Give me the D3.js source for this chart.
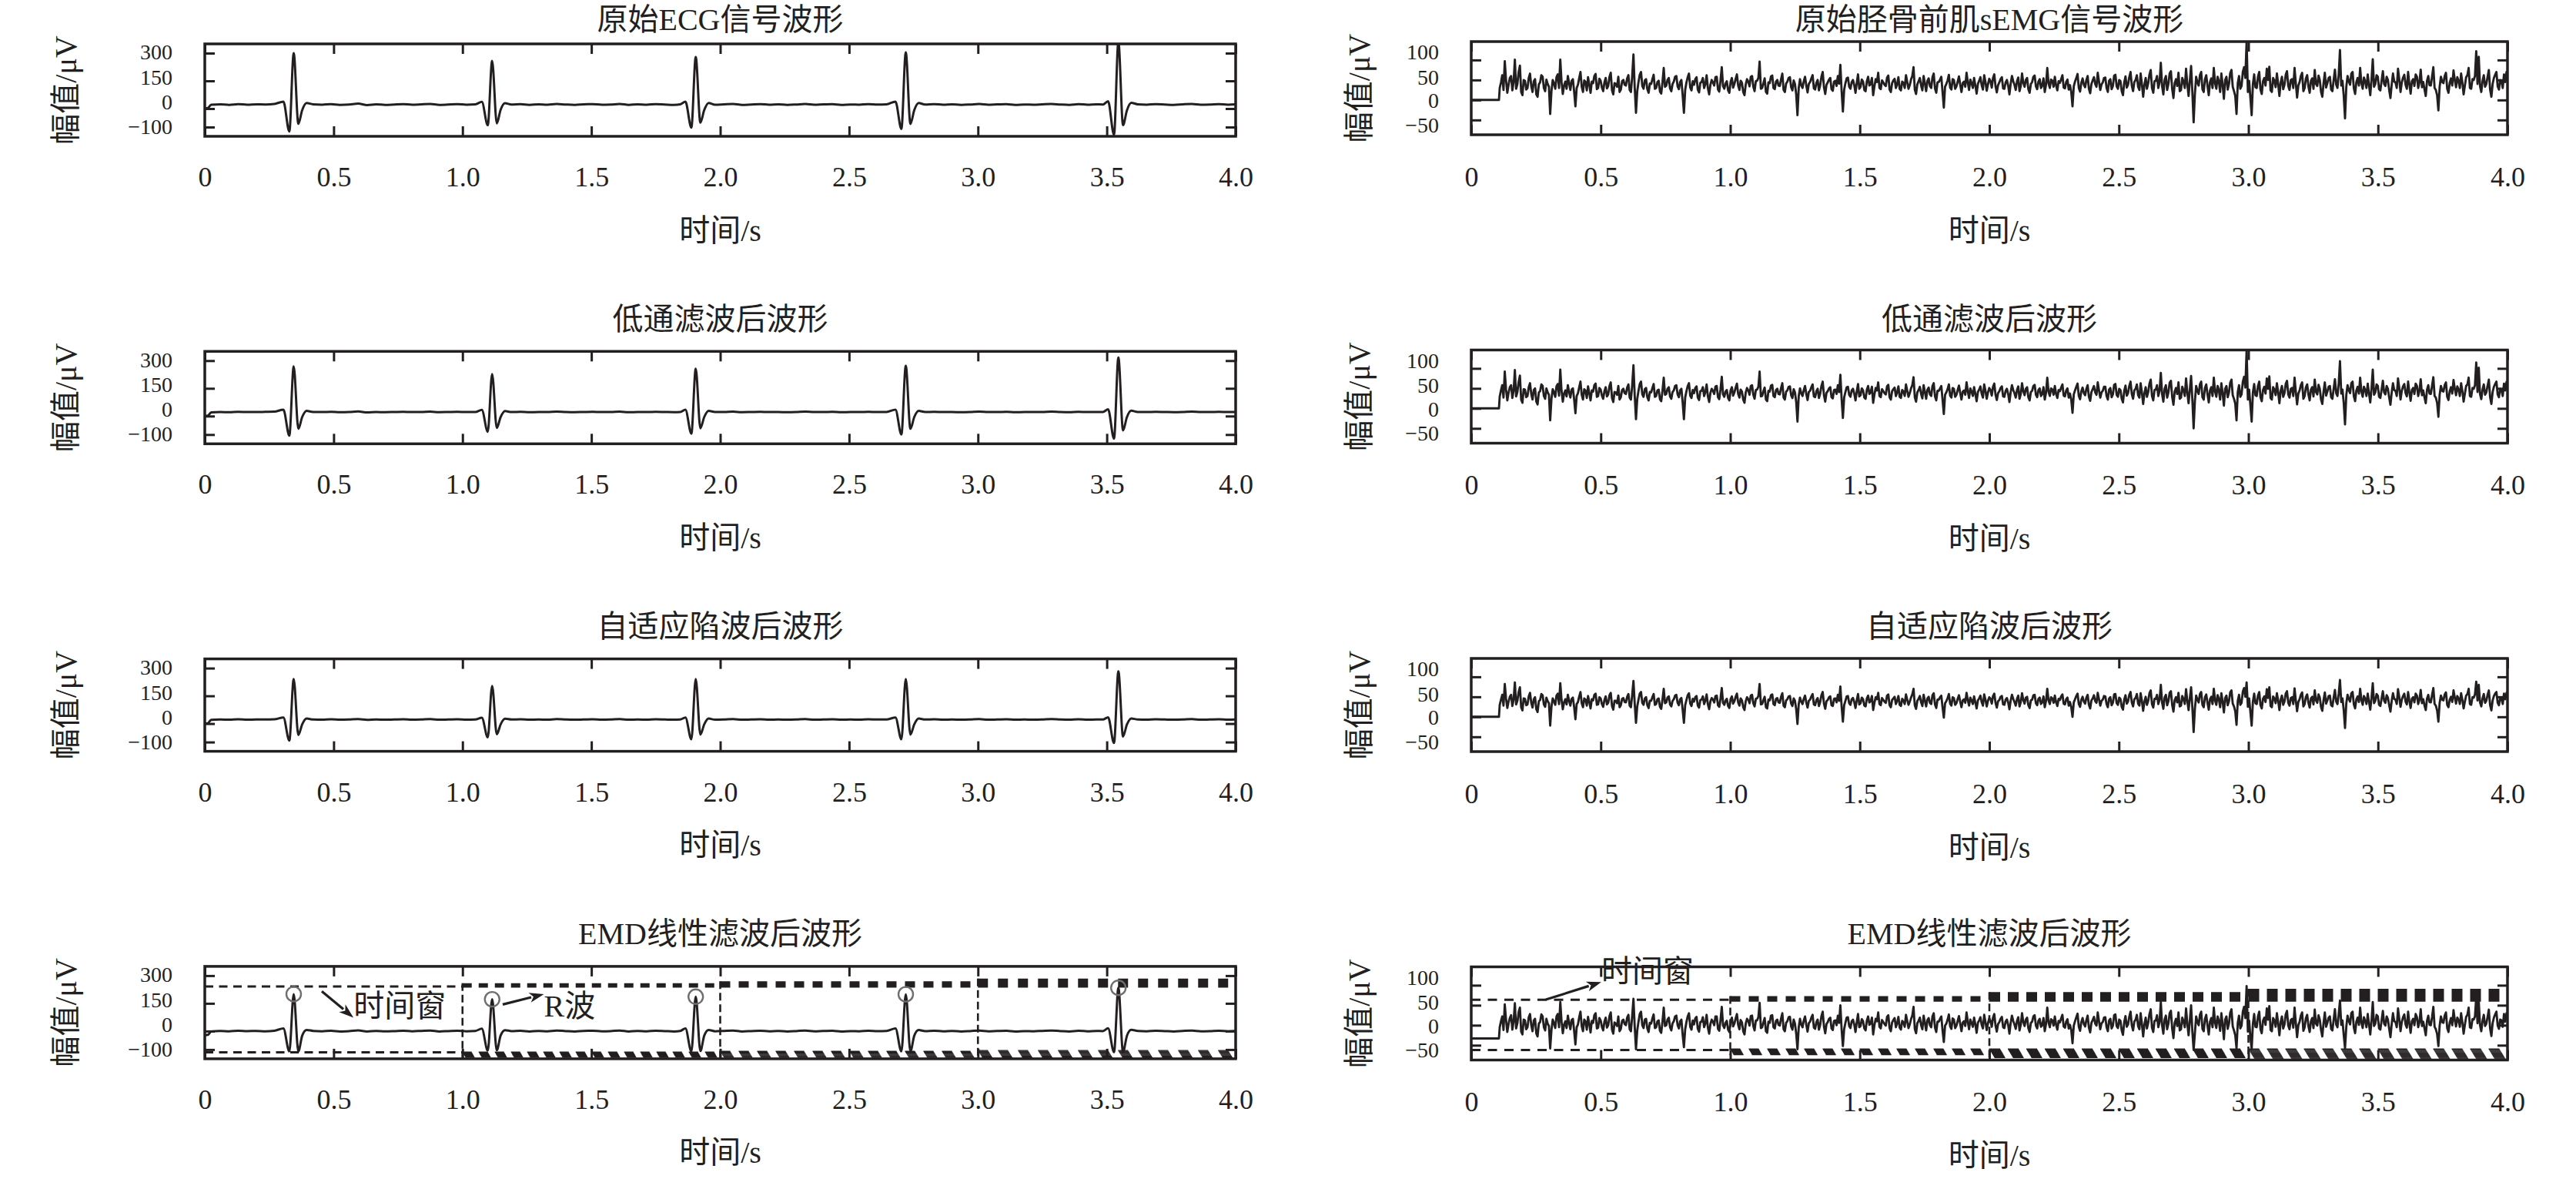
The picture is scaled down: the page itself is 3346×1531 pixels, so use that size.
<!DOCTYPE html>
<html><head><meta charset="utf-8">
<script src="https://cdn.jsdelivr.net/npm/d3@7"></script>
<style>
html,body{margin:0;padding:0;background:#fff;}
svg{display:block;}
text{font-family:"Liberation Serif","Times New Roman","Noto Sans CJK SC",serif;fill:#231f20;}
</style></head><body>
<svg id="chart" width="3346" height="1531"></svg>
<script>
// ---------------- DATA ----------------
const xTickValues = [0, 0.5, 1, 1.5, 2, 2.5, 3, 3.5, 4];
const xTickLabels = ["0", "0.5", "1.0", "1.5", "2.0", "2.5", "3.0", "3.5", "4.0"];
const ecgYTicks = [300, 150, 0, -100];
const ecgYLabels = ["300", "150", "0", "−100"];
const emgYTicks = [100, 50, 0, -50];
const emgYLabels = ["100", "50", "0", "−50"];
const ecgDomain = [-150, 350];
const emgDomain = [-87, 146];
const ecgTitles = ["原始ECG信号波形", "低通滤波后波形", "自适应陷波后波形", "EMD线性滤波后波形"];
const emgTitles = ["原始胫骨前肌sEMG信号波形", "低通滤波后波形", "自适应陷波后波形", "EMD线性滤波后波形"];
const xTitle = "时间/s";
const yTitle = "幅值/μV";

// ECG samples (time in s)
const ecgTime = [
 0, 0.012, 0.025, 0.06, 0.095, 0.13, 0.165, 0.2, 0.235, 0.27,
 0.305, 0.328, 0.345, 0.363, 0.378, 0.395,
 0.42, 0.455, 0.49, 0.525, 0.56, 0.595, 0.63, 0.665, 0.7, 0.735, 0.77, 0.805, 0.84, 0.875, 0.91, 0.945, 0.98, 1.015, 1.05,
 1.075, 1.098, 1.115, 1.133, 1.148, 1.165,
 1.19, 1.225, 1.26, 1.295, 1.33, 1.365, 1.4, 1.435, 1.47, 1.505, 1.54, 1.575, 1.61, 1.645, 1.68, 1.715, 1.75, 1.785, 1.82, 1.845,
 1.865, 1.888, 1.905, 1.923, 1.938, 1.955,
 1.98, 2.015, 2.05, 2.085, 2.12, 2.155, 2.19, 2.225, 2.26, 2.295, 2.33, 2.365, 2.4, 2.435, 2.47, 2.505, 2.54, 2.575, 2.61, 2.645,
 2.68, 2.703, 2.72, 2.738, 2.753, 2.77,
 2.795, 2.83, 2.865, 2.9, 2.935, 2.97, 3.005, 3.04, 3.075, 3.11, 3.145, 3.18, 3.215, 3.25, 3.285, 3.32, 3.355, 3.39, 3.425, 3.46, 3.485,
 3.505, 3.528, 3.545, 3.563, 3.578, 3.595,
 3.62, 3.655, 3.69, 3.725, 3.76, 3.795, 3.83, 3.865, 3.9, 3.935, 3.97, 4.0
];
const ecgRaw = [
 0, 3, 21, 23, 20, 24, 21, 23, 22, 25,
 38, -124, 300, -82, -8, 30,
 23, 21, 24, 20, 22, 27, 19, 23, 20, 22, 24, 21, 23, 25, 20, 22, 24, 21, 23,
 36, -90, 258, -80, -6, 29,
 22, 24, 20, 23, 21, 25, 22, 20, 23, 24, 21, 22, 25, 20, 23, 21, 24, 22, 20, 23,
 37, -103, 279, -76, -8, 30,
 21, 23, 25, 20, 22, 24, 21, 23, 20, 22, 25, 21, 23, 24, 20, 22, 21, 24, 22, 23,
 38, -110, 304, -83, -8, 30,
 22, 24, 21, 23, 20, 22, 25, 21, 23, 24, 20, 22, 21, 23, 25, 22, 20, 24, 21, 23, 22,
 40, -142, 362, -90, -10, 31,
 23, 21, 24, 22, 20, 23, 25, 21, 22, 24, 21, 23
];
const ecgLowpass = [
 0, 2, 20, 22, 21, 23, 22, 22, 23, 24,
 35, -106, 269, -69, -5, 28,
 22, 22, 23, 21, 22, 25, 20, 22, 21, 22, 23, 22, 22, 24, 21, 22, 23, 22, 22,
 34, -85, 227, -64, -5, 27,
 22, 23, 21, 22, 22, 24, 22, 21, 22, 23, 22, 22, 24, 21, 22, 22, 23, 22, 21, 22,
 35, -95, 256, -66, -5, 28,
 22, 22, 24, 21, 22, 23, 22, 22, 21, 22, 24, 22, 22, 23, 21, 22, 22, 23, 22, 22,
 35, -100, 272, -69, -5, 28,
 22, 23, 22, 22, 21, 22, 24, 22, 22, 23, 21, 22, 22, 22, 24, 22, 21, 23, 22, 22, 22,
 37, -122, 317, -78, -6, 29,
 22, 22, 23, 22, 21, 22, 24, 22, 22, 23, 22, 22
];
const ecgNotch = [
 0, 2, 20, 22, 21, 23, 21, 22, 22, 23,
 33, -92, 241, -62, -4, 27,
 22, 21, 23, 21, 22, 24, 20, 22, 21, 22, 23, 21, 22, 24, 21, 22, 23, 21, 22,
 32, -75, 204, -58, -4, 26,
 22, 23, 21, 22, 21, 24, 22, 21, 22, 23, 21, 22, 24, 21, 22, 21, 23, 22, 21, 22,
 33, -85, 241, -60, -4, 27,
 21, 22, 24, 21, 22, 23, 21, 22, 21, 22, 24, 21, 22, 23, 21, 22, 21, 23, 22, 22,
 33, -85, 241, -60, -4, 27,
 22, 23, 21, 22, 21, 22, 24, 21, 22, 23, 21, 22, 21, 22, 24, 22, 21, 23, 21, 22, 22,
 34, -105, 283, -70, -5, 28,
 22, 21, 23, 22, 21, 22, 24, 21, 22, 23, 21, 22
];
const ecgEmd = [
 -22, -20, -2, 1, -1, 2, 0, 1, -1, 2,
 14, -110, 200, -110, -25, 6,
 1, -1, 2, -2, 0, 4, -2, 1, -1, 0, 2, -1, 1, 3, -2, 0, 2, -1, 1,
 13, -106, 172, -104, -24, 5,
 0, 2, -2, 1, -1, 3, 0, -2, 1, 2, -1, 0, 3, -2, 1, -1, 2, 0, -2, 1,
 14, -110, 186, -108, -25, 6,
 -1, 1, 3, -2, 0, 2, -1, 1, -2, 0, 3, -1, 1, 2, -2, 0, -1, 2, 0, 1,
 14, -110, 199, -110, -25, 6,
 0, 2, -1, 1, -2, 0, 3, -1, 1, 2, -2, 0, -1, 1, 3, 0, -2, 2, -1, 1, 0,
 15, -114, 234, -114, -26, 7,
 1, -1, 2, 0, -2, 1, 3, -1, 0, 2, -1, 1
];

// sEMG samples: flat segment until onset, then uniform samples
const emgOnset = 0.107;
const emgStart = 0.11;
const emgStep = 0.00487;
const emgFlat = [0, 0, 0, -33];
const emgRaw = [
 30, 44, 62, 25, 97, 50, 18, 38, 55, 60, 24, 45, 101, 28, 40, 70, 86, 20, 12, 50, 48, 26, 30, 55, 66, 35, 20, 47, 52, 14, 8, 39, 44, 62, 58, 30, 22, 51, 40, 33,
 -35, 22, 50, 41, 28, 57, 64, 30, 101, 45, 15, 36, 46, 28, 60, 42, 25, 48, 52, 20, -16, 30, 38, 55, 70, 33, 20, 49, 45, 24, 57, 38, 18, 46, 42, 60, 65, 27, 30, 53,
 48, 31, 22, 44, 55, 29, 35, 58, 68, 24, 14, 42, 40, 33, 58, 20, 26, 47, 50, 38, 36, 54, 62, 25, 20, 60, 114, 30, -32, 22, 45, 63, 70, 35, 28, 49, 52, 27, 18, 41,
 40, 52, 63, 28, 30, 45, 48, 21, 16, 44, 80, 33, 36, 50, 55, 29, 22, 40, 46, 58, 60, 34, 27, 45, 50, 12, -32, 25, 44, 57, 66, 31, 24, 47, 38, 52, 57, 26, 19, 43,
 45, 55, 30, 40, 62, 29, 14, 38, 50, 44, 36, 57, 58, 26, 21, 49, 82, 35, 28, 41, 47, 24, 18, 45, 55, 31, 40, 53, 64, 36, 25, 48, 43, 20, 12, 39, 52, 46, 34, 58,
 60, 33, 22, 47, 48, 55, 96, 28, 30, 42, 54, 20, 16, 44, 42, 59, 61, 30, 27, 46, 50, 36, 35, 52, 66, 25, 20, 41, 46, 55, 57, 32, 24, 49, 40, 14, -38, 30, 52, 37,
 30, 47, 58, 36, 19, 40, 45, 54, 62, 29, 26, 43, 50, 24, 37, 58, 70, 32, 15, 38, 44, 51, 55, 27, 23, 46, 48, 35, 60, 41, 88, 22, -29, 25, 42, 54, 56, 33, 28, 45,
 50, 37, 18, 43, 64, 28, 33, 51, 46, 25, 22, 47, 58, 36, 40, 55, 12, 34, 52, 45, 68, 30, 27, 49, 44, 38, 35, 56, 61, 26, 20, 42, 49, 53, 30, 39, 57, 28, 24, 46,
 43, 30, 62, 45, 28, 37, 51, 60, 82, 26, 15, 39, 47, 55, 36, 24, 60, 41, 22, 48, 54, 35, 30, 57, 66, 29, 18, 44, 45, 51, 58, 20, -19, 33, 40, 49, 63, 31, 26, 52,
 50, 28, 34, 46, 59, 38, 20, 42, 46, 33, 68, 44, 25, 51, 42, 30, 55, 36, 16, 40, 48, 57, 37, 26, 62, 45, 23, 39, 53, 47, 31, 55, 64, 34, 19, 37, 44, 52, 57, 29,
 28, 44, 50, 36, 14, 41, 60, 47, 38, 25, 47, 56, 22, 35, 66, 43, 33, 50, 55, 27, 18, 40, 45, 58, 61, 34, 27, 46, 52, 30, 36, 54, 20, 38, 80, 42, 30, 51, 48, 33,
 58, 36, 24, 47, 43, 52, 62, 31, 29, 45, 51, 26, 37, 20, -16, 34, 46, 55, 65, 30, 21, 43, 54, 38, 32, 50, 60, 28, 17, 40, 49, 57, 40, 33, 68, 46, 25, 39, 44, 55,
 56, 30, 20, 48, 52, 27, 35, 61, 63, 34, 28, 50, 47, 22, 12, 44, 59, 31, 38, 57, 70, 36, 22, 45, 50, 62, 33, 25, 66, 40, 8, 38, 55, 28, 42, 64, 75, 30, 18, 47,
 48, 60, 30, 44, 93, 35, 14, 50, 60, 25, 40, 66, 72, 28, 5, 42, 52, 35, 68, 22, 25, 55, 46, 30, 78, 40, 10, 48, 85, 20, -56, 15, 58, 44, 36, 62, 70, 27, 20, 52,
 62, 35, 12, 45, 54, 30, 80, 42, 28, 58, 47, 20, 66, 38, 3, 50, 58, 26, 40, 67, 75, 33, 22, 10, -35, 42, 60, 28, 35, 70, 82, 55, 146, 20, 48, 5, -38, 40, 64, 32,
 30, 58, 70, 26, 15, 47, 55, 36, 78, 50, 83, 24, 20, 55, 48, 32, 66, 40, 10, 44, 58, 27, 38, 63, 72, 35, 25, 50, 52, 30, 80, 42, 6, 36, 45, 60, 68, 22, 30, 54,
 62, 34, 18, 48, 54, 28, 75, 40, 35, 61, 50, 20, 8, 42, 68, 31, 42, 55, 58, 26, 22, 50, 76, 38, 30, 64, 125, 36, 48, 10, -46, 32, 60, 47, 38, 66, 70, 29, 15, 45,
 55, 36, 80, 42, 28, 56, 46, 30, 64, 38, 12, 50, 102, 33, 40, 62, 58, 27, 24, 48, 72, 40, 35, 58, 50, 25, 5, 39, 66, 46, 44, 30, 78, 52, 20, 44, 56, 63, 38, 28,
 70, 40, 16, 47, 52, 35, 64, 58, 30, 44, 76, 32, 45, 26, 10, 48, 60, 37, 36, 59, 82, 30, 25, 12, -26, 33, 58, 45, 42, 60, 68, 28, 18, 43, 54, 36, 74, 50, 32, 57,
 48, 30, 66, 44, 14, 36, 57, 62, 80, 30, 28, 52, 50, 60, 122, 40, 108, 35, 20, 47, 62, 33, 40, 58, 75, 26, 8, 40, 55, 63, 70, 34, 26, 50, 48, 30, 64, 45, 70, 52
];
const emgLowpass = [
 30, 45, 58, 27, 92, 48, 20, 39, 53, 58, 26, 44, 96, 30, 41, 66, 82, 22, 14, 48, 47, 28, 31, 53, 63, 36, 22, 46, 50, 17, 10, 40, 43, 60, 56, 31, 24, 50, 40, 34,
 -30, 24, 48, 40, 29, 55, 61, 32, 97, 44, 17, 37, 45, 30, 58, 41, 27, 47, 50, 22, -12, 31, 38, 53, 67, 34, 22, 48, 44, 26, 55, 38, 20, 45, 42, 58, 62, 29, 31, 51,
 47, 32, 24, 43, 53, 30, 35, 56, 65, 26, 16, 41, 40, 34, 56, 22, 28, 46, 49, 38, 36, 52, 60, 27, 22, 58, 108, 31, -27, 24, 44, 61, 67, 35, 29, 48, 51, 28, 20, 41,
 40, 51, 61, 29, 31, 45, 47, 23, 18, 44, 77, 34, 36, 49, 53, 30, 24, 41, 45, 56, 58, 35, 28, 45, 49, 15, -27, 27, 43, 56, 63, 32, 26, 46, 38, 51, 55, 27, 21, 43,
 44, 53, 31, 41, 60, 30, 16, 39, 49, 44, 36, 55, 56, 28, 23, 48, 79, 35, 29, 42, 46, 26, 20, 45, 53, 32, 40, 52, 62, 36, 27, 47, 42, 22, 14, 40, 51, 45, 34, 56,
 58, 34, 24, 46, 47, 54, 92, 30, 31, 43, 52, 22, 18, 44, 42, 57, 59, 31, 28, 46, 49, 36, 35, 51, 63, 27, 22, 42, 45, 54, 55, 33, 26, 48, 40, 16, -33, 31, 50, 38,
 31, 46, 56, 36, 21, 41, 44, 53, 60, 30, 28, 43, 49, 26, 37, 56, 67, 33, 17, 39, 43, 50, 53, 28, 25, 46, 47, 36, 58, 41, 84, 24, -24, 27, 41, 53, 54, 34, 29, 45,
 49, 37, 20, 43, 61, 30, 33, 50, 45, 27, 24, 47, 56, 36, 40, 54, 14, 35, 51, 45, 65, 31, 28, 48, 43, 38, 35, 55, 59, 28, 22, 43, 48, 52, 31, 40, 55, 29, 26, 46,
 42, 31, 60, 44, 29, 38, 50, 58, 78, 28, 17, 40, 46, 54, 36, 25, 58, 41, 24, 47, 52, 35, 31, 56, 63, 30, 20, 44, 44, 50, 56, 22, -14, 34, 40, 48, 60, 32, 27, 51,
 49, 29, 34, 46, 57, 38, 22, 42, 45, 34, 65, 43, 26, 50, 42, 31, 53, 36, 18, 41, 47, 55, 37, 27, 60, 44, 24, 40, 51, 46, 32, 54, 62, 34, 21, 38, 43, 51, 55, 30,
 29, 44, 49, 36, 16, 41, 58, 46, 38, 27, 46, 55, 24, 36, 63, 43, 33, 49, 53, 28, 20, 41, 44, 56, 59, 34, 28, 46, 50, 31, 36, 53, 22, 39, 77, 42, 31, 50, 47, 34,
 56, 36, 26, 46, 43, 52, 60, 32, 30, 45, 50, 27, 37, 22, -11, 35, 45, 54, 62, 31, 23, 43, 52, 38, 33, 49, 58, 29, 19, 41, 48, 56, 40, 34, 65, 45, 27, 40, 44, 54,
 54, 31, 22, 47, 51, 28, 35, 59, 61, 34, 29, 49, 46, 24, 15, 44, 57, 32, 38, 56, 67, 36, 24, 45, 49, 60, 33, 27, 63, 40, 11, 38, 53, 29, 41, 62, 72, 31, 20, 46,
 47, 58, 31, 44, 89, 36, 17, 49, 58, 27, 40, 64, 69, 29, 9, 42, 51, 36, 65, 24, 27, 54, 45, 31, 75, 40, 13, 47, 81, 22, -50, 18, 56, 44, 36, 60, 67, 28, 22, 51,
 60, 35, 15, 45, 53, 31, 77, 42, 29, 56, 46, 22, 63, 38, 7, 49, 56, 28, 40, 64, 72, 33, 24, 12, -30, 41, 58, 29, 35, 67, 79, 52, 146, 22, 47, 8, -33, 40, 61, 33,
 31, 56, 67, 28, 18, 46, 54, 37, 75, 49, 80, 26, 22, 53, 47, 33, 63, 40, 13, 44, 56, 29, 38, 61, 69, 35, 27, 49, 51, 31, 77, 42, 10, 37, 45, 58, 65, 24, 31, 53,
 60, 35, 20, 47, 53, 30, 72, 41, 35, 59, 49, 22, 11, 42, 65, 32, 42, 54, 56, 28, 24, 49, 73, 38, 31, 62, 118, 37, 47, 13, -40, 33, 58, 46, 38, 63, 67, 30, 18, 45,
 54, 37, 77, 42, 29, 54, 46, 31, 62, 38, 15, 49, 97, 34, 40, 60, 56, 29, 26, 47, 69, 40, 35, 56, 49, 27, 9, 40, 63, 46, 44, 31, 75, 51, 22, 44, 55, 61, 38, 30,
 67, 40, 19, 46, 51, 36, 62, 56, 31, 44, 73, 33, 45, 27, 13, 47, 58, 37, 36, 57, 78, 31, 27, 14, -21, 34, 56, 44, 42, 58, 65, 29, 21, 43, 53, 37, 71, 49, 33, 55,
 47, 31, 63, 44, 17, 37, 56, 60, 77, 31, 29, 51, 49, 58, 115, 41, 102, 36, 23, 47, 60, 34, 40, 57, 72, 28, 11, 41, 54, 61, 67, 35, 28, 49, 47, 31, 62, 45, 66, 51
];
const emgNotch = [
 30, 43, 55, 28, 82, 46, 22, 38, 50, 55, 27, 43, 86, 31, 40, 62, 74, 24, 16, 46, 45, 29, 31, 51, 60, 35, 23, 44, 49, 19, 12, 39, 42, 57, 54, 31, 25, 48, 39, 34,
 -22, 25, 46, 39, 30, 53, 58, 32, 84, 42, 19, 36, 44, 31, 55, 40, 28, 45, 48, 24, -6, 32, 37, 51, 62, 34, 24, 46, 43, 28, 52, 37, 21, 44, 41, 55, 58, 30, 31, 49,
 46, 32, 25, 42, 51, 31, 35, 54, 60, 27, 18, 40, 40, 34, 53, 24, 29, 45, 47, 37, 36, 50, 57, 28, 24, 55, 90, 32, -15, 26, 43, 58, 62, 35, 30, 46, 49, 29, 22, 40,
 40, 49, 57, 30, 32, 44, 46, 25, 20, 43, 70, 34, 36, 48, 51, 31, 26, 40, 44, 53, 55, 35, 29, 44, 47, 18, -15, 29, 42, 54, 59, 33, 27, 45, 38, 49, 52, 28, 23, 42,
 43, 51, 32, 41, 56, 31, 19, 39, 47, 43, 36, 52, 53, 29, 25, 46, 72, 35, 30, 41, 45, 27, 22, 44, 51, 33, 39, 50, 58, 36, 28, 46, 41, 24, 17, 39, 49, 44, 34, 53,
 55, 34, 26, 45, 46, 52, 82, 31, 32, 42, 50, 24, 21, 43, 41, 54, 56, 32, 29, 45, 47, 36, 35, 50, 59, 28, 24, 41, 44, 51, 52, 33, 27, 46, 40, 19, -18, 32, 48, 38,
 32, 45, 53, 36, 23, 40, 43, 51, 57, 31, 29, 42, 47, 27, 37, 54, 62, 33, 20, 39, 42, 49, 51, 29, 27, 45, 46, 36, 55, 40, 76, 26, -12, 29, 40, 51, 52, 34, 30, 44,
 47, 37, 22, 42, 57, 31, 34, 48, 44, 28, 26, 46, 53, 36, 39, 52, 17, 35, 49, 44, 60, 32, 29, 47, 42, 38, 35, 53, 56, 29, 24, 42, 46, 50, 32, 40, 52, 30, 27, 45,
 41, 32, 56, 43, 30, 38, 48, 56, 70, 29, 20, 40, 45, 52, 36, 27, 55, 40, 26, 46, 50, 35, 32, 54, 59, 31, 22, 43, 43, 49, 53, 24, -2, 34, 39, 47, 57, 33, 28, 49,
 47, 30, 34, 45, 54, 38, 24, 41, 44, 35, 60, 42, 28, 48, 41, 32, 51, 36, 21, 41, 46, 53, 37, 28, 56, 43, 26, 40, 49, 45, 33, 52, 58, 35, 23, 39, 42, 50, 52, 31,
 30, 43, 47, 36, 19, 41, 55, 45, 37, 28, 45, 53, 26, 37, 59, 42, 33, 48, 50, 29, 22, 41, 43, 54, 55, 34, 29, 45, 48, 32, 36, 51, 24, 40, 70, 41, 32, 49, 46, 35,
 53, 36, 27, 45, 42, 51, 56, 33, 31, 44, 48, 28, 37, 24, 0, 36, 44, 52, 58, 32, 25, 43, 50, 38, 33, 48, 55, 30, 21, 41, 46, 54, 39, 35, 60, 44, 28, 40, 43, 52,
 51, 32, 24, 46, 49, 29, 35, 56, 57, 34, 30, 48, 45, 25, 18, 43, 54, 33, 38, 55, 62, 36, 26, 44, 47, 57, 33, 28, 59, 40, 15, 38, 50, 30, 40, 59, 66, 32, 23, 45,
 45, 55, 32, 43, 80, 36, 20, 48, 55, 29, 39, 60, 64, 30, 13, 42, 49, 36, 60, 26, 28, 52, 44, 32, 69, 40, 17, 46, 74, 24, -38, 20, 53, 43, 36, 57, 62, 30, 24, 49,
 56, 35, 18, 44, 50, 32, 70, 41, 30, 54, 45, 24, 59, 38, 11, 47, 53, 29, 39, 61, 66, 33, 26, 14, -20, 40, 55, 30, 35, 63, 72, 50, 86, 25, 46, 12, -22, 38, 58, 34,
 32, 53, 62, 29, 21, 45, 51, 37, 69, 47, 74, 27, 24, 51, 46, 34, 59, 40, 17, 43, 53, 30, 38, 58, 64, 35, 28, 47, 49, 32, 71, 41, 14, 37, 44, 55, 61, 26, 32, 50,
 56, 35, 23, 46, 50, 31, 66, 41, 35, 56, 48, 24, 15, 42, 61, 33, 41, 52, 53, 29, 26, 48, 67, 38, 32, 58, 92, 37, 46, 16, -28, 34, 55, 45, 38, 59, 62, 31, 21, 44,
 51, 37, 70, 42, 30, 52, 45, 32, 58, 38, 18, 47, 84, 34, 40, 57, 53, 30, 27, 46, 64, 40, 35, 54, 48, 29, 13, 40, 59, 45, 43, 32, 69, 49, 25, 43, 52, 58, 38, 31,
 62, 40, 22, 45, 49, 36, 58, 53, 32, 43, 67, 34, 44, 28, 17, 46, 55, 37, 36, 55, 72, 32, 28, 16, -12, 35, 53, 43, 41, 56, 61, 30, 24, 43, 50, 37, 66, 48, 33, 52,
 46, 32, 59, 43, 21, 38, 53, 57, 70, 32, 30, 49, 48, 56, 88, 41, 80, 36, 26, 46, 57, 35, 40, 55, 66, 29, 16, 41, 52, 58, 62, 35, 29, 48, 46, 32, 58, 44, 60, 50
];
const emgEmd = [
 -5, 10, 22, -12, 52, 14, -17, 3, 18, 25, -11, 9, 55, -8, 5, 33, 44, -16, -23, 14, 12, -10, -5, 20, 28, 0, -15, 12, 16, -21, -28, 4, 8, 27, 22, -5, -13, 16, 4, -2,
 -58, -12, 14, 5, -7, 22, 28, -5, 58, 10, -20, 1, 10, -7, 24, 6, -10, 13, 16, -15, -48, -5, 2, 20, 34, -2, -15, 14, 9, -11, 21, 3, -18, 11, 6, 25, 30, -8, -6, 18,
 12, -4, -13, 9, 19, -6, 0, 23, 32, -11, -21, 7, 4, -2, 22, -15, -9, 11, 14, 3, 0, 19, 26, -10, -15, 24, 66, -5, -60, -13, 9, 28, 34, 0, -7, 14, 16, -8, -17, 6,
 4, 17, 27, -7, -5, 10, 12, -14, -19, 9, 44, -2, 0, 14, 19, -5, -13, 5, 10, 22, 24, 0, -8, 10, 14, -24, -55, -10, 8, 22, 30, -4, -11, 12, 2, 17, 21, -9, -16, 8,
 9, 20, -5, 5, 26, -6, -21, 3, 14, 9, 0, 22, 22, -9, -14, 13, 46, 0, -7, 6, 11, -11, -17, 10, 19, -3, 4, 17, 28, 1, -10, 13, 7, -15, -23, 4, 16, 11, -1, 23,
 24, -2, -13, 12, 12, 20, 56, -7, -5, 7, 18, -15, -19, 9, 6, 24, 25, -5, -8, 11, 14, 1, -1, 17, 30, -10, -15, 6, 10, 20, 21, -3, -11, 14, 4, -21, -60, -5, 16, 2,
 -5, 12, 22, 1, -16, 5, 9, 19, 26, -6, -9, 8, 14, -11, 1, 23, 34, -3, -20, 3, 8, 16, 19, -8, -12, 11, 12, 0, 24, 6, 50, -11, -52, -10, 6, 19, 20, -2, -7, 10,
 14, 2, -17, 8, 28, -5, -2, 15, 10, -8, -13, 12, 22, 1, 4, 19, -23, 0, 16, 10, 32, -4, -8, 13, 8, 3, -1, 21, 25, -7, -15, 7, 13, 18, -5, 5, 21, -6, -11, 11,
 7, -4, 26, 10, -7, 2, 15, 24, 46, -9, -20, 5, 11, 19, 0, -10, 24, 6, -13, 13, 18, 0, -5, 22, 30, -6, -17, 9, 9, 16, 22, -13, -42, -1, 4, 14, 27, -3, -9, 17,
 14, -7, -1, 11, 23, 3, -15, 7, 10, -2, 32, 9, -10, 14, 6, -4, 19, 2, -19, 6, 12, 20, 1, -8, 26, 8, -12, 5, 17, 11, -4, 19, 28, -1, -16, 3, 8, 16, 21, -5,
 -7, 9, 14, 1, -21, 6, 24, 11, 2, -9, 11, 20, -13, 1, 30, 8, -2, 14, 19, -7, -17, 6, 9, 22, 25, -1, -8, 11, 16, -4, 0, 18, -15, 3, 44, 7, -5, 15, 12, -1,
 22, 1, -11, 11, 7, 17, 26, -3, -6, 9, 15, -8, 1, -12, -45, -1, 10, 20, 29, -4, -14, 8, 18, 3, -3, 13, 24, -6, -18, 6, 13, 21, 4, -1, 32, 10, -10, 5, 8, 19,
 20, -5, -15, 12, 16, -8, -1, 25, 27, -2, -7, 14, 11, -13, -24, 8, 23, -4, 2, 21, 34, 0, -13, 9, 14, 26, -2, -10, 30, 4, -28, 2, 19, -8, 6, 28, 40, -6, -17, 11,
 12, 25, -5, 8, 58, 0, -21, 14, 24, -10, 4, 30, 36, -8, -32, 6, 16, -2, 32, -13, -10, 19, 10, -5, 42, 4, -25, 12, 50, -16, -62, -20, 22, 8, 0, 26, 34, -9, -15, 16,
 26, -1, -23, 9, 18, -5, 44, 6, -7, 22, 11, -14, 30, 2, -35, 14, 22, -9, 4, 31, 40, -3, -13, -25, -58, 6, 24, -8, -1, 34, 46, 18, 98, -16, 12, -30, -60, 4, 28, -4,
 -5, 22, 34, -10, -20, 11, 19, 1, 42, 14, 48, -12, -15, 18, 12, -4, 30, 5, -25, 8, 22, -8, 2, 27, 36, -1, -10, 13, 16, -6, 44, 6, -30, 0, 9, 24, 32, -14, -5, 18,
 26, -2, -17, 10, 18, -7, 39, 4, -1, 25, 14, -12, -28, 6, 32, -4, 6, 19, 22, -9, -13, 14, 40, 2, -5, 28, 62, 1, 12, -25, -58, -4, 24, 11, 2, 30, 34, -6, -20, 9,
 19, 1, 44, 6, -7, 20, 10, -5, 28, 3, -23, 11, 58, -2, 4, 26, 22, -8, -11, 12, 36, 4, -1, 22, 14, -9, -30, 3, 30, 10, 8, -5, 42, 15, -15, 8, 20, 27, 2, -6,
 34, 5, -19, 10, 16, 0, 28, 20, -5, 8, 40, -2, 9, -8, -25, 11, 24, 1, 0, 21, 46, -4, -10, -22, -52, -1, 22, 8, 6, 24, 32, -7, -17, 7, 18, 0, 38, 13, -3, 19,
 12, -4, 30, 8, -21, 1, 21, 26, 44, -5, -7, 15, 14, 22, 70, 5, 60, 0, -15, 11, 26, -2, 4, 21, 39, -8, -27, 5, 19, 27, 34, -1, -9, 14, 12, -4, 28, 9, 30, 16
];

// EMD time windows (threshold bands: inner edge / outer edge values)
const winStart = [0, 1, 2, 3];
const winEnd = [1, 2, 3, 4];
const ecgUpperInner = [235, 235, 235, 235];
const ecgUpperOuter = [247, 259, 269, 284];
const ecgLowerInner = [-109, -112, -108, -103];
const ecgLowerOuter = [-121, -143, -144, -147];
const emgUpperInner = [60.6, 59, 59, 59];
const emgUpperOuter = [66.4, 73, 83, 91];
const emgLowerInner = [-59, -58.5, -58.5, -58.5];
const emgLowerOuter = [-65, -74.5, -82, -88.6];
const ecgWinDash = ["11,7.5", "12,9", "13,11", "13,13"];
const emgWinDash = ["12,9.5", "13,11", "14,10", "14,10"];

// R-wave markers on EMD-filtered ECG
const rPeakTimes = [0.345, 1.115, 1.905, 2.72, 3.545];
const rPeakValues = [200, 172, 186, 199, 234];

// annotations
const annoTexts = ["时间窗", "R波", "时间窗"];
const annoPanel = ["ecg", "ecg", "emg"];
const annoTextPos = [[0.577, 137], [1.316, 137], [0.502, 135]];
const annoArrowFrom = [[0.454, 215], [1.156, 144], [0.288, 64]];
const annoArrowTo = [[0.577, 73], [1.316, 200], [0.502, 108]];

// ---------------- LAYOUT ----------------
const INK = "#231f20";
const leftBox = { x0: 266, x1: 1605, top: 57, h: 120, step: 399.3, yTitleX: 85, labelOff: 65, xTitleOff: 122,
  yLabelNudge: [-1, -4.5, -8.5, -0.5] };
const rightBox = { x0: 1911, x1: 3257, top: 54, h: 121, step: 400.5, yTitleX: 1765, labelOff: 67, xTitleOff: 124,
  yLabelNudge: [-10, -3.5, 1, 6.5] };
const titleCenters = [25, 414, 813, 1212];
const yTickFont = 28;

const svg = d3.select("#chart");
let clipCount = 0;

function styleAxis(sel, fontSize) {
  sel.attr("font-size", null).attr("font-family", null);
  sel.select(".domain").remove();
  sel.selectAll(".tick line").attr("stroke", INK).attr("stroke-width", 3);
  sel.selectAll(".tick text").attr("fill", INK).style("font-size", fontSize + "px");
}

function drawPanel(box, row, yDomain, yTicks, yLabels, title) {
  const top = box.top + row * box.step;
  const bottom = top + box.h;
  const x = d3.scaleLinear().domain([0, 4]).range([box.x0, box.x1]);
  const y = d3.scaleLinear().domain(yDomain).range([bottom, top]);
  const g = svg.append("g");
  const cid = "clip" + (clipCount++);
  g.append("clipPath").attr("id", cid).append("rect")
    .attr("x", box.x0).attr("y", top).attr("width", box.x1 - box.x0).attr("height", box.h);
  const plot = g.append("g").attr("clip-path", `url(#${cid})`);
  const deco = g.append("g");

  g.append("g").attr("transform", `translate(0,${bottom})`)
    .call(d3.axisBottom(x).tickValues(xTickValues).tickFormat((d, i) => xTickLabels[i])
      .tickSizeInner(-13).tickSizeOuter(0).tickPadding(box.labelOff - 25.6))
    .call(s => styleAxis(s, 36));
  g.append("g").attr("transform", `translate(0,${top})`)
    .call(d3.axisTop(x).tickValues(xTickValues).tickFormat(() => "").tickSizeInner(-13).tickSizeOuter(0))
    .call(s => styleAxis(s, 36));
  g.append("g").attr("transform", `translate(${box.x0},0)`)
    .call(d3.axisLeft(y).tickValues(yTicks).tickFormat((d, i) => yLabels[i])
      .tickSizeInner(-13).tickSizeOuter(0).tickPadding(42))
    .call(s => styleAxis(s, yTickFont))
    .selectAll(".tick text").attr("y", (d, i) => box.yLabelNudge[i]);
  g.append("g").attr("transform", `translate(${box.x1},0)`)
    .call(d3.axisRight(y).tickValues(yTicks).tickFormat(() => "").tickSizeInner(-13).tickSizeOuter(0))
    .call(s => styleAxis(s, yTickFont));

  g.append("rect").attr("x", box.x0).attr("y", top)
    .attr("width", box.x1 - box.x0).attr("height", box.h)
    .attr("fill", "none").attr("stroke", INK).attr("stroke-width", 3.5);

  g.append("text").attr("x", (box.x0 + box.x1) / 2).attr("y", titleCenters[row])
    .attr("text-anchor", "middle").attr("dominant-baseline", "central")
    .style("font-size", "40px").text(title);
  g.append("text").attr("x", (box.x0 + box.x1) / 2).attr("y", bottom + box.xTitleOff)
    .attr("text-anchor", "middle").attr("dominant-baseline", "central")
    .style("font-size", "40px").text(xTitle);
  g.append("text").attr("transform", `translate(${box.yTitleX},${(top + bottom) / 2}) rotate(-90)`)
    .attr("text-anchor", "middle").attr("dominant-baseline", "central")
    .style("font-size", "40px").text(yTitle);

  return { x, y, plot, deco, g };
}

function drawSignal(p, pts, width, curve) {
  p.plot.append("path").datum(pts)
    .attr("d", d3.line().x(d => p.x(d[0])).y(d => p.y(d[1])).curve(curve))
    .attr("fill", "none").attr("stroke", INK).attr("stroke-width", width)
    .attr("stroke-linejoin", "round");
}

function ecgPts(vals) { return ecgTime.map((t, i) => [t, vals[i]]).filter(d => d[1] !== undefined); }
function emgPts(vals, flat) {
  const pts = [[0, flat], [emgOnset, flat]];
  vals.forEach((v, i) => pts.push([emgStart + i * emgStep, v]));
  return pts;
}

function drawWindows(p, upIn, upOut, loIn, loOut, dashes) {
  winStart.forEach((s, k) => {
    const xa = p.x(s), xb = p.x(winEnd[k]);
    const yi = p.y(upIn[k]), yo = p.y(upOut[k]);
    p.plot.append("line").attr("x1", xa).attr("x2", xb)
      .attr("y1", (yi + yo) / 2).attr("y2", (yi + yo) / 2)
      .attr("stroke", INK).attr("stroke-width", Math.abs(yi - yo))
      .attr("stroke-dasharray", dashes[k]);
    const li = p.y(loIn[k]), lo = p.y(loOut[k]);
    const thick = Math.abs(lo - li);
    const n = k === 0 ? 1 : Math.max(1, Math.round(thick));
    for (let j = 0; j < n; j++) {
      const yy = li + (j + 0.5) * (lo - li) / n;
      p.plot.append("line").attr("x1", xa).attr("x2", xb).attr("y1", yy).attr("y2", yy)
        .attr("stroke", INK).attr("stroke-width", thick / n + (n > 1 ? 0.4 : 0))
        .attr("stroke-dasharray", dashes[k])
        .attr("stroke-dashoffset", k === 0 ? 0 : -j * 0.6);
    }
    if (k > 0) {
      p.plot.append("line").attr("x1", xa).attr("x2", xa)
        .attr("y1", p.y(upOut[k])).attr("y2", p.y(loOut[k]))
        .attr("stroke", INK).attr("stroke-width", 2.6).attr("stroke-dasharray", "10,5");
    }
  });
}

function drawArrow(p, i) {
  const [fx, fy] = [p.x(annoArrowFrom[i][0]), p.y(annoArrowFrom[i][1])];
  const [tx, ty] = [p.x(annoArrowTo[i][0]), p.y(annoArrowTo[i][1])];
  const ang = Math.atan2(ty - fy, tx - fx);
  const L = 19, Wd = 6.5;
  const bx = tx - L * Math.cos(ang), by = ty - L * Math.sin(ang);
  p.deco.append("line").attr("x1", fx).attr("y1", fy).attr("x2", bx + 2 * Math.cos(ang)).attr("y2", by + 2 * Math.sin(ang))
    .attr("stroke", INK).attr("stroke-width", 3.2);
  const px = -Math.sin(ang), py = Math.cos(ang);
  p.deco.append("polygon")
    .attr("points", [[tx, ty], [bx + Wd * px, by + Wd * py], [bx + 5 * Math.cos(ang), by + 5 * Math.sin(ang)], [bx - Wd * px, by - Wd * py]].map(d => d.join(",")).join(" "))
    .attr("fill", INK);
  p.deco.append("text").attr("x", p.x(annoTextPos[i][0])).attr("y", p.y(annoTextPos[i][1]))
    .attr("text-anchor", "start").attr("dominant-baseline", "central")
    .style("font-size", "40px").text(annoTexts[i]);
}

// ---------------- DRAW ----------------
const ecgSeries = [ecgRaw, ecgLowpass, ecgNotch, ecgEmd];
const emgSeries = [emgRaw, emgLowpass, emgNotch, emgEmd];
const panels = { ecg: null, emg: null };

for (let r = 0; r < 4; r++) {
  const pe = drawPanel(leftBox, r, ecgDomain, ecgYTicks, ecgYLabels, ecgTitles[r]);
  const pm = drawPanel(rightBox, r, emgDomain, emgYTicks, emgYLabels, emgTitles[r]);
  if (r === 3) {
    drawWindows(pe, ecgUpperInner, ecgUpperOuter, ecgLowerInner, ecgLowerOuter, ecgWinDash);
    drawWindows(pm, emgUpperInner, emgUpperOuter, emgLowerInner, emgLowerOuter, emgWinDash);
  }
  drawSignal(pe, ecgPts(ecgSeries[r]), 3, d3.curveMonotoneX);
  drawSignal(pm, emgPts(emgSeries[r], emgFlat[r]), 2.9, d3.curveLinear);
  if (r === 3) {
    pe.plot.selectAll("circle.r").data(rPeakTimes).join("circle").attr("class", "r")
      .attr("cx", (d, i) => pe.x(d)).attr("cy", (d, i) => pe.y(rPeakValues[i])).attr("r", 9.5)
      .attr("fill", "none").attr("stroke", "#6e6e6e").attr("stroke-width", 2.4);
    panels.ecg = pe; panels.emg = pm;
  }
}
annoTexts.forEach((t, i) => drawArrow(panels[annoPanel[i]], i));
</script>
</body></html>
